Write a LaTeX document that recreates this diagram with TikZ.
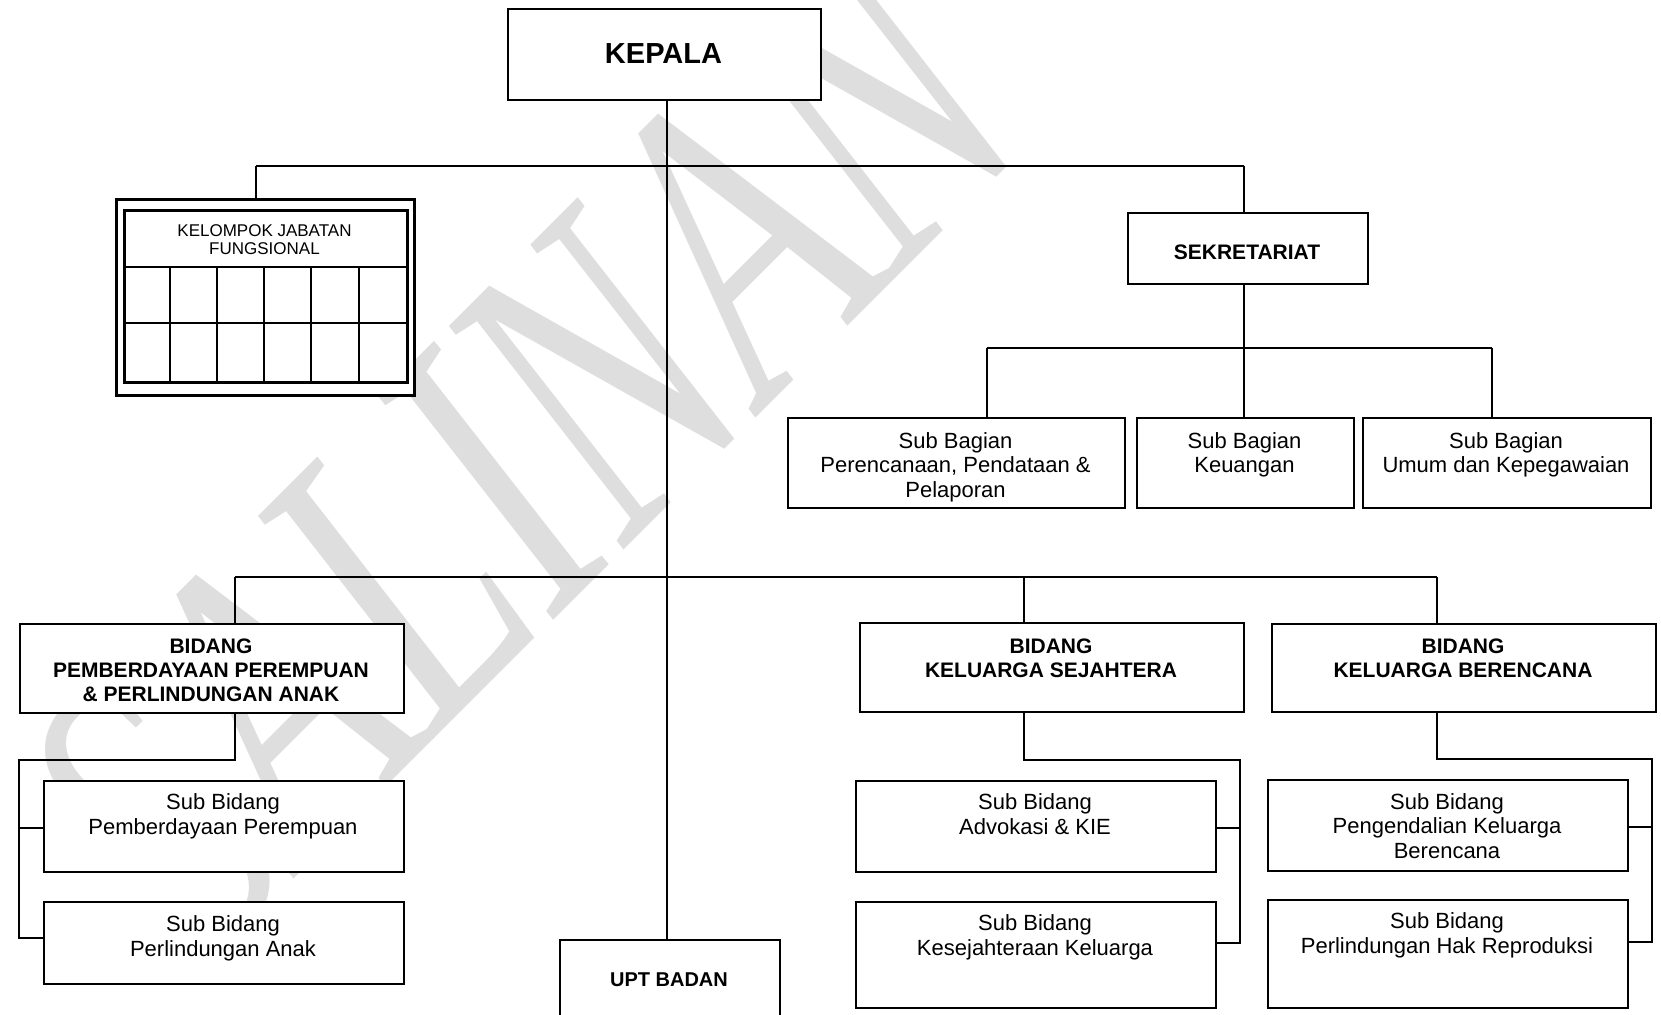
\documentclass[tikz,border=0pt]{standalone}
\usepackage{fontspec}
\setmainfont{Liberation Sans}
\newfontfamily\wmfont{Liberation Serif}
\begin{document}
\begin{tikzpicture}[x=1pt,y=-1pt,
  orgbox/.style={draw=black, fill=white, line width=1.8pt, rectangle, inner sep=0pt, anchor=north west},
  link/.style={draw=black, line width=1.6pt},
  % base anchor of a multi-line text is the baseline of its last line
  lbl/.style={anchor=base, align=center, inner sep=0pt, font=\fontsize{22}{24.3}\selectfont},
  blbl/.style={anchor=base, align=center, inner sep=0pt, font=\bfseries\fontsize{21}{24}\selectfont},
  wmark/.style={text=black!13, inner sep=0pt, font=\wmfont\itshape\fontsize{430}{430}\selectfont}
]
\newcommand\orgnode[6][]{\node[orgbox,#1, minimum width={#5-#3}, minimum height={#6-#4}] (#2) at (#3,#4) {};}

\useasboundingbox (0,0) rectangle (1661,1014);
\clip (0,0) rectangle (1661,1014);
\fill[white] (0,0) rectangle (1661,1014);

% watermark behind everything
\node[wmark, rotate=45, xscale=0.7, transform shape] (wm) at (520,455) {SALINAN};

% junction points of the connectors
\coordinate (top) at (667,166);
\coordinate (mid) at (667,577);
\coordinate (sekbus) at (1244,348);

% trunk and the two buses
\draw[link] (667,99) -- (667,939);
\draw[link] (256,166) -- (1244,166);
\draw[link] (235,577) -- (1437,577);

% boxes
\orgnode{kepala}{507}{8}{820}{99}
\orgnode[line width=2.6pt]{kjf}{115}{198}{413}{394}
\orgnode[line width=2.6pt]{kjfin}{123}{209}{406}{381}
\orgnode{sek}{1127}{212}{1367}{283}
\orgnode{sb1}{787}{417}{1124}{507}
\orgnode{sb2}{1136}{417}{1353}{507}
\orgnode{sb3}{1362}{417}{1650}{507}
\orgnode{bpp}{19}{623}{403}{712}
\orgnode{bks}{859}{622}{1243}{711}
\orgnode{bkb}{1271}{623}{1655}{711}
\orgnode{spp1}{43}{780}{403}{871}
\orgnode{spp2}{43}{901}{403}{983}
\orgnode{sks1}{855}{780}{1215}{871}
\orgnode{sks2}{855}{901}{1215}{1007}
\orgnode{skb1}{1267}{779}{1627}{870}
\orgnode{skb2}{1267}{899}{1627}{1007}
\orgnode{upt}{559}{939}{779}{1040}

% grid of the functional group table
\draw[line width=2.6pt] (123,267) -- (406,267);
\draw[line width=2.4pt] (123,323) -- (406,323);
\foreach \cx in {170,217,264,311,359}
  \draw[line width=1.8pt] (\cx,267) -- (\cx,381);

% connectors to the upper boxes
\draw[link] (256,166) -- (256,198);
\draw[link] (1244,166) -- (sek.north -| 1244,0);
\draw[link] (sek.south -| 1244,0) -- (sekbus);
\draw[link] (987,348) -- (1492,348);
\draw[link] (987,348) -- (sb1.north -| 987,0);
\draw[link] (sekbus) -- (sb2.north -| 1244,0);
\draw[link] (1492,348) -- (sb3.north -| 1492,0);

% connectors to the Bidang boxes
\draw[link] (235,577) -- (bpp.north -| 235,0);
\draw[link] (1024,577) -- (bks.north -| 1024,0);
\draw[link] (1437,577) -- (bkb.north -| 1437,0);

% Bidang PP branch
\draw[link] (bpp.south -| 235,0) -- (235,760) -- (19,760) -- (19,938) -- (spp2.west |- 0,938);
\draw[link] (19,828) -- (spp1.west |- 0,828);

% Bidang KS branch
\draw[link] (bks.south -| 1024,0) -- (1024,760) -- (1240,760) -- (1240,943) -- (sks2.east |- 0,943);
\draw[link] (1240,828) -- (sks1.east |- 0,828);

% Bidang KB branch
\draw[link] (bkb.south -| 1437,0) -- (1437,759) -- (1652,759) -- (1652,942) -- (skb2.east |- 0,942);
\draw[link] (1652,827) -- (skb1.east |- 0,827);

% texts
\node[blbl, font=\bfseries\fontsize{29}{32}\selectfont] (tkepala) at (663.5,64) {KEPALA};
\node[lbl, font=\fontsize{17}{18}\selectfont] (tkjf) at (264.5,254) {KELOMPOK JABATAN\\FUNGSIONAL};
\node[blbl] (tsek) at (1247,259) {SEKRETARIAT};
\node[lbl] (tsb1) at (955.5,497) {Sub Bagian\\Perencanaan, Pendataan \&\\Pelaporan};
\node[lbl] (tsb2) at (1244.5,472.5) {Sub Bagian\\Keuangan};
\node[lbl] (tsb3) at (1506,472.5) {Sub Bagian\\Umum dan Kepegawaian};
\node[blbl] (tbpp) at (211,701) {BIDANG\\PEMBERDAYAAN PEREMPUAN\\\& PERLINDUNGAN ANAK};
\node[blbl] (tbks) at (1051,677) {BIDANG\\KELUARGA SEJAHTERA};
\node[blbl] (tbkb) at (1463,677) {BIDANG\\KELUARGA BERENCANA};
\node[lbl] (tspp1) at (223,834) {Sub Bidang\\Pemberdayaan Perempuan};
\node[lbl] (tspp2) at (223,956) {Sub Bidang\\Perlindungan Anak};
\node[lbl] (tsks1) at (1035,834) {Sub Bidang\\Advokasi \& KIE};
\node[lbl] (tsks2) at (1035,955) {Sub Bidang\\Kesejahteraan Keluarga};
\node[lbl] (tskb1) at (1447,858) {Sub Bidang\\Pengendalian Keluarga\\Berencana};
\node[lbl] (tskb2) at (1447,953) {Sub Bidang\\Perlindungan Hak Reproduksi};
\node[blbl, font=\bfseries\fontsize{20}{24}\selectfont] (tupt) at (669,986) {UPT BADAN};
\end{tikzpicture}
\end{document}
